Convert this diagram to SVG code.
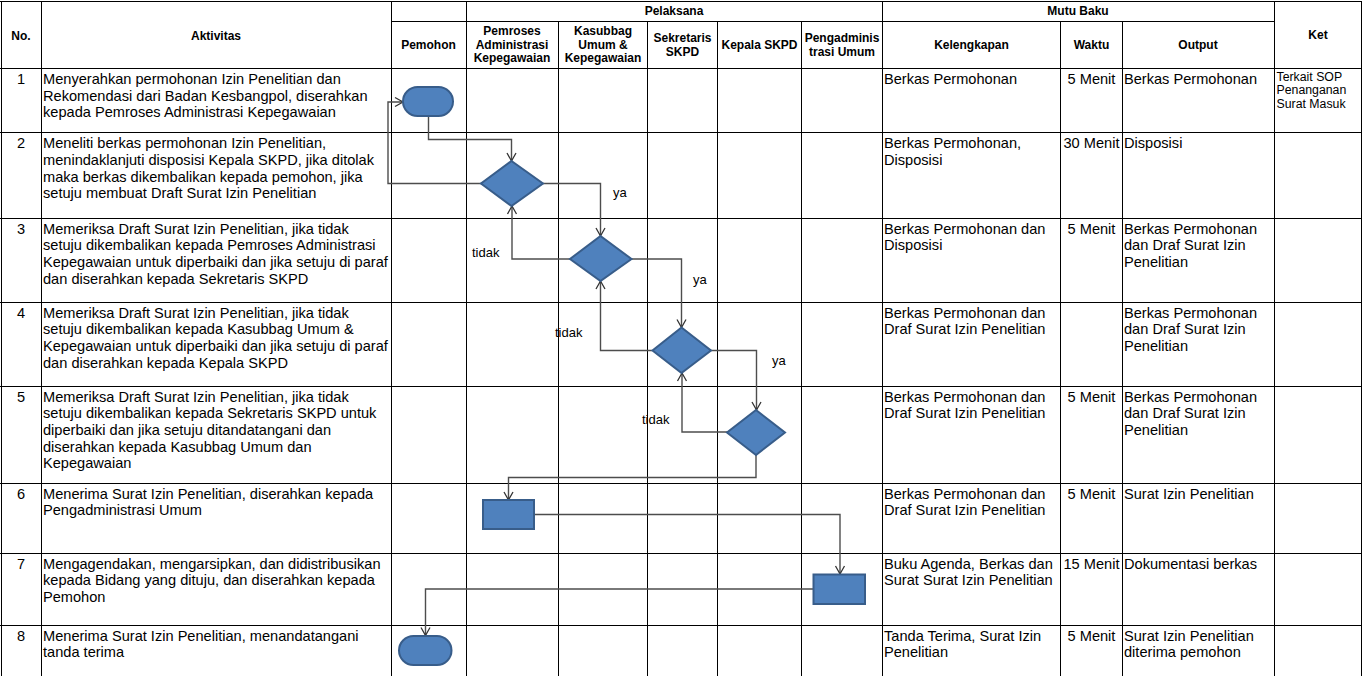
<svg xmlns="http://www.w3.org/2000/svg" width="1362" height="676" viewBox="0 0 1362 676">
<style>
.g{stroke:#000;stroke-width:1;fill:none}
.h{font-family:"Liberation Sans",Arial,sans-serif;font-size:12px;font-weight:bold;fill:#000;text-anchor:middle}
.t{font-family:"Liberation Sans",Arial,sans-serif;font-size:14.6px;fill:#000}
.c{text-anchor:middle}
.k{font-family:"Liberation Sans",Arial,sans-serif;font-size:12.3px;fill:#000}
.l{font-family:"Liberation Sans",Arial,sans-serif;font-size:13px;fill:#000}
.s{fill:#4F81BD;stroke:#385D8A;stroke-width:2}
.e{fill:none;stroke:#4d4d4d;stroke-width:1.4;marker-end:url(#a)}
</style>
<defs>
<marker id="a" markerUnits="userSpaceOnUse" markerWidth="12" markerHeight="12" viewBox="0 0 12 12" refX="10" refY="6" orient="auto">
<path d="M2,1.5 L10,6 L2,10.5" fill="none" stroke="#333" stroke-width="1.3"/>
</marker>
</defs>
<rect x="0" y="0" width="1362" height="676" fill="#fff"/>
<g id="grid">
<path class="g" d="M0,1.5H1362 M391,21.5H1274 M0,68.5H1362 M0,132.5H1362 M0,218.5H1362 M0,302.5H1362 M0,386.5H1362 M0,483.5H1362 M0,553.5H1362 M0,625.5H1362"/>
<path class="g" d="M1.5,1V676 M41.5,1V676 M391.5,1V676 M466.5,1V676 M558.5,21V676 M647.5,21V676 M717.5,21V676 M801.5,21V676 M882.5,1V676 M1060.5,21V676 M1122.5,21V676 M1274.5,1V676 M1361.5,1V676"/>
</g>
<g id="header">
<text class="h" x="21" y="39.5">No.</text>
<text class="h" x="216" y="39.5">Aktivitas</text>
<text class="h" x="428.5" y="49.3">Pemohon</text>
<text class="h" x="674" y="15.3">Pelaksana</text>
<text class="h" x="512" y="35.3">Pemroses</text>
<text class="h" x="512" y="48.8">Administrasi</text>
<text class="h" x="512" y="62.3">Kepegawaian</text>
<text class="h" x="603" y="35.3">Kasubbag</text>
<text class="h" x="603" y="48.8">Umum &amp;</text>
<text class="h" x="603" y="62.3">Kepegawaian</text>
<text class="h" x="682.5" y="42">Sekretaris</text>
<text class="h" x="682.5" y="55.5">SKPD</text>
<text class="h" x="759.5" y="49.3">Kepala SKPD</text>
<text class="h" x="842" y="42">Pengadminis</text>
<text class="h" x="842" y="55.5">trasi Umum</text>
<text class="h" x="1078" y="15.3">Mutu Baku</text>
<text class="h" x="971.5" y="49.3">Kelengkapan</text>
<text class="h" x="1091.5" y="49.3">Waktu</text>
<text class="h" x="1198" y="49.3">Output</text>
<text class="h" x="1318" y="38.5">Ket</text>
</g>
<g id="row1">
<text class="t c" x="21" y="84">1</text>
<text class="t" x="43" y="84">Menyerahkan permohonan Izin Penelitian dan</text>
<text class="t" x="43" y="100.7">Rekomendasi dari Badan Kesbangpol, diserahkan</text>
<text class="t" x="43" y="117.4">kepada Pemroses Administrasi Kepegawaian</text>
<text class="t" x="884" y="84">Berkas Permohonan</text>
<text class="t c" x="1091.5" y="84">5 Menit</text>
<text class="t" x="1124" y="84">Berkas Permohonan</text>
<text class="k" x="1276.5" y="80.7">Terkait SOP</text>
<text class="k" x="1276.5" y="94.4">Penanganan</text>
<text class="k" x="1276.5" y="108.1">Surat Masuk</text>
</g>
<g id="row2">
<text class="t c" x="21" y="148.3">2</text>
<text class="t" x="43" y="148.3">Meneliti berkas permohonan Izin Penelitian,</text>
<text class="t" x="43" y="165">menindaklanjuti disposisi Kepala SKPD, jika ditolak</text>
<text class="t" x="43" y="181.7">maka berkas dikembalikan kepada pemohon, jika</text>
<text class="t" x="43" y="198.4">setuju membuat Draft Surat Izin Penelitian</text>
<text class="t" x="884" y="148.3">Berkas Permohonan,</text>
<text class="t" x="884" y="165">Disposisi</text>
<text class="t c" x="1091.5" y="148.3">30 Menit</text>
<text class="t" x="1124" y="148.3">Disposisi</text>
</g>
<g id="row3">
<text class="t c" x="21" y="233.5">3</text>
<text class="t" x="43" y="233.5">Memeriksa Draft Surat Izin Penelitian, jika tidak</text>
<text class="t" x="43" y="250.2">setuju dikembalikan kepada Pemroses Administrasi</text>
<text class="t" x="43" y="266.9">Kepegawaian untuk diperbaiki dan jika setuju di paraf</text>
<text class="t" x="43" y="283.6">dan diserahkan kepada Sekretaris SKPD</text>
<text class="t" x="884" y="233.5">Berkas Permohonan dan</text>
<text class="t" x="884" y="250.2">Disposisi</text>
<text class="t c" x="1091.5" y="233.5">5 Menit</text>
<text class="t" x="1124" y="233.5">Berkas Permohonan</text>
<text class="t" x="1124" y="250.2">dan Draf Surat Izin</text>
<text class="t" x="1124" y="266.9">Penelitian</text>
</g>
<g id="row4">
<text class="t c" x="21" y="317.5">4</text>
<text class="t" x="43" y="317.5">Memeriksa Draft Surat Izin Penelitian, jika tidak</text>
<text class="t" x="43" y="334.2">setuju dikembalikan kepada Kasubbag Umum &amp;</text>
<text class="t" x="43" y="350.9">Kepegawaian untuk diperbaiki dan jika setuju di paraf</text>
<text class="t" x="43" y="367.6">dan diserahkan kepada Kepala SKPD</text>
<text class="t" x="884" y="317.5">Berkas Permohonan dan</text>
<text class="t" x="884" y="334.2">Draf Surat Izin Penelitian</text>
<text class="t" x="1124" y="317.5">Berkas Permohonan</text>
<text class="t" x="1124" y="334.2">dan Draf Surat Izin</text>
<text class="t" x="1124" y="350.9">Penelitian</text>
</g>
<g id="row5">
<text class="t c" x="21" y="401.5">5</text>
<text class="t" x="43" y="401.5">Memeriksa Draft Surat Izin Penelitian, jika tidak</text>
<text class="t" x="43" y="418.2">setuju dikembalikan kepada Sekretaris SKPD untuk</text>
<text class="t" x="43" y="434.9">diperbaiki dan jika setuju ditandatangani dan</text>
<text class="t" x="43" y="451.6">diserahkan kepada Kasubbag Umum dan</text>
<text class="t" x="43" y="468.3">Kepegawaian</text>
<text class="t" x="884" y="401.5">Berkas Permohonan dan</text>
<text class="t" x="884" y="418.2">Draf Surat Izin Penelitian</text>
<text class="t c" x="1091.5" y="401.5">5 Menit</text>
<text class="t" x="1124" y="401.5">Berkas Permohonan</text>
<text class="t" x="1124" y="418.2">dan Draf Surat Izin</text>
<text class="t" x="1124" y="434.9">Penelitian</text>
</g>
<g id="row6">
<text class="t c" x="21" y="498.5">6</text>
<text class="t" x="43" y="498.5">Menerima Surat Izin Penelitian, diserahkan kepada</text>
<text class="t" x="43" y="515.2">Pengadministrasi Umum</text>
<text class="t" x="884" y="498.5">Berkas Permohonan dan</text>
<text class="t" x="884" y="515.2">Draf Surat Izin Penelitian</text>
<text class="t c" x="1091.5" y="498.5">5 Menit</text>
<text class="t" x="1124" y="498.5">Surat Izin Penelitian</text>
</g>
<g id="row7">
<text class="t c" x="21" y="568.5">7</text>
<text class="t" x="43" y="568.5">Mengagendakan, mengarsipkan, dan didistribusikan</text>
<text class="t" x="43" y="585.2">kepada Bidang yang dituju, dan diserahkan kepada</text>
<text class="t" x="43" y="601.9">Pemohon</text>
<text class="t" x="884" y="568.5">Buku Agenda, Berkas dan</text>
<text class="t" x="884" y="585.2">Surat Surat Izin Penelitian</text>
<text class="t c" x="1091.5" y="568.5">15 Menit</text>
<text class="t" x="1124" y="568.5">Dokumentasi berkas</text>
</g>
<g id="row8">
<text class="t c" x="21" y="640.7">8</text>
<text class="t" x="43" y="640.7">Menerima Surat Izin Penelitian, menandatangani</text>
<text class="t" x="43" y="657.4">tanda terima</text>
<text class="t" x="884" y="640.7">Tanda Terima, Surat Izin</text>
<text class="t" x="884" y="657.4">Penelitian</text>
<text class="t c" x="1091.5" y="640.7">5 Menit</text>
<text class="t" x="1124" y="640.7">Surat Izin Penelitian</text>
<text class="t" x="1124" y="657.4">diterima pemohon</text>
</g>
<g id="connectors">
<path class="e" d="M428.5,116 V139.5 H511.5 V161"/>
<path class="e" d="M481,183.5 H388 V102 H403"/>
<path class="e" d="M543,183.5 H600.5 V236"/>
<path class="e" d="M570,259 H512 V206"/>
<path class="e" d="M632,259 H681.5 V327.5"/>
<path class="e" d="M652.5,350.5 H600.5 V281"/>
<path class="e" d="M711,350.5 H756.5 V410"/>
<path class="e" d="M727,432 H682 V373"/>
<path class="e" d="M756,455 V477.5 H508.5 V500"/>
<path class="e" d="M534,514.5 H840 V574"/>
<path class="e" d="M813,589 H425.5 V635.5"/>
<text class="l" x="613" y="197">ya</text>
<text class="l" x="472" y="256.5">tidak</text>
<text class="l" x="693" y="283.5">ya</text>
<text class="l" x="555" y="337">tidak</text>
<text class="l" x="772" y="365">ya</text>
<text class="l" x="642" y="424">tidak</text>
</g>
<g id="start"><rect class="s" x="403" y="87" width="50" height="29" rx="14.5"/></g>
<g id="d1"><polygon class="s" points="511.5,161 543,183.5 511.5,206 481,183.5"/></g>
<g id="d2"><polygon class="s" points="600.5,236 631.5,259 600.5,281 570,259"/></g>
<g id="d3"><polygon class="s" points="681.5,327.5 711,350.5 681.5,373 652.5,350.5"/></g>
<g id="d4"><polygon class="s" points="756,410 785,432.5 756,455 727,432.5"/></g>
<g id="p6"><rect class="s" x="483" y="500" width="51" height="29"/></g>
<g id="p7"><rect class="s" x="813.5" y="574.5" width="51.5" height="29.5"/></g>
<g id="end"><rect class="s" x="399" y="636" width="52.5" height="29" rx="14.5"/></g>
</svg>
